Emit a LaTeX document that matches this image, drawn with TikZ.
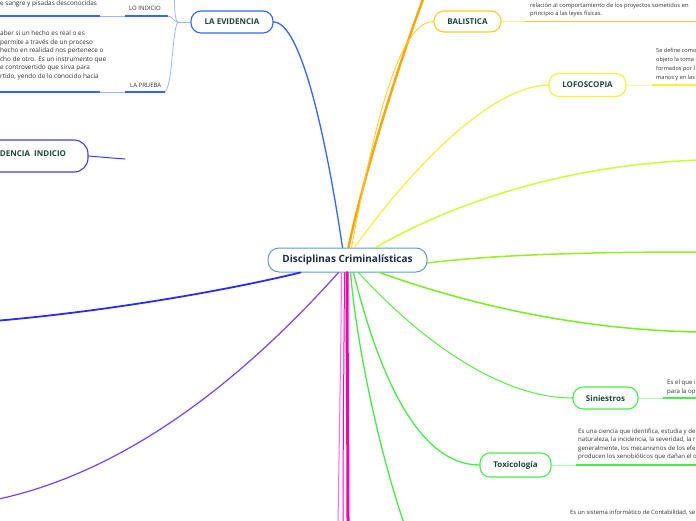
\documentclass[tikz,border=0pt]{standalone}
\usepackage{fontspec}
\setmainfont{Open Sans}
\definecolor{nodetext}{HTML}{1A4A3A}
\definecolor{ctext}{HTML}{1C2B50}
\definecolor{cborder}{HTML}{5B9BD5}
\definecolor{smalltext}{HTML}{333333}
\definecolor{evblue}{HTML}{3366FF}
\definecolor{lightblue}{HTML}{9BB8FF}
\definecolor{indblue}{HTML}{3D3DF5}
\definecolor{leftblue}{HTML}{2A2AFF}
\definecolor{violet}{HTML}{7B3FFF}
\definecolor{orangec}{HTML}{FFA500}
\definecolor{gold}{HTML}{FFCC22}
\definecolor{yell}{HTML}{F5F03A}
\definecolor{ygreenA}{HTML}{CCFF33}
\definecolor{ygreenB}{HTML}{99EE22}
\definecolor{greenC}{HTML}{77EE22}
\definecolor{greenD}{HTML}{44EE44}
\definecolor{deeppink}{HTML}{FF0099}
\definecolor{magA}{HTML}{EE00EE}
\definecolor{magB}{HTML}{FF66FF}
\begin{document}
\begin{tikzpicture}[x=1pt,y=-1pt,
  topic/.style={draw, line width=1.1pt, rounded corners=10pt, fill=white, inner sep=0pt, text=nodetext, font=\bfseries\fontsize{8}{9}\selectfont},
  lbl/.style={inner sep=0pt, anchor=base west, text=smalltext, font=\fontsize{6}{7}\selectfont},
  para/.style={inner sep=0pt, anchor=north west, align=left, text=smalltext, font=\fontsize{5.8}{8.6}\selectfont},
  lpara/.style={para, font=\fontsize{6.4}{8.6}\selectfont},
  conn/.style={line cap=round},
]
\useasboundingbox (0,0) rectangle (696,520);
\fill[white] (0,0) rectangle (696,520);

% ---------- coordinates for free ends ----------
\coordinate (evj) at (178,22);
\coordinate (evtop) at (174,-6);
\coordinate (liA) at (168,16);
\coordinate (liB) at (125,16);
\coordinate (liC) at (100,16);
\coordinate (liD) at (-5,16);
\coordinate (lpA) at (165,92);
\coordinate (lpB) at (125,92);
\coordinate (lpC) at (100,92);
\coordinate (lpD) at (-5,92);
\coordinate (balA) at (525,21.5);
\coordinate (balB) at (700,21.5);
\coordinate (lofA) at (652,85);
\coordinate (lofB) at (700,85);
\coordinate (sinA) at (663,398);
\coordinate (sinB) at (700,398);
\coordinate (toxA) at (576,465);
\coordinate (toxB) at (700,465);
\coordinate (orTop) at (425,-6);
\coordinate (ygA) at (700,160);
\coordinate (ygB) at (700,252);
\coordinate (gC) at (700,332);
\coordinate (gBot) at (405,526);
\coordinate (mA) at (348,526);
\coordinate (mB) at (343,526);
\coordinate (mC) at (338,526);
\coordinate (lbEnd) at (-6,321);
\coordinate (viEnd) at (-6,500);
\coordinate (indEnd) at (125,159);

% ---------- nodes ----------
\node[draw=cborder, line width=1pt, rounded corners=11pt, fill=white, inner sep=0pt,
      minimum width=159pt, minimum height=24pt, text=ctext,
      font=\bfseries\fontsize{10}{11}\selectfont] (c) at (347.5,260) {Disciplinas Criminalísticas};
\node[topic, draw=evblue, minimum width=82pt, minimum height=22pt] (ev) at (232,22) {LA EVIDENCIA};
\node[topic, draw=indblue, minimum width=110pt, minimum height=32pt, rounded corners=14pt] (ind) at (33,156) {\raisebox{4pt}{DENCIA\ \ INDICIO}};
\node[topic, draw=gold, minimum width=67pt, minimum height=21pt] (bal) at (467.5,21.5) {BALISTICA};
\node[topic, draw=yell, minimum width=77pt, minimum height=23pt] (lof) at (587.5,85) {LOFOSCOPIA};
\node[topic, draw=greenD, minimum width=65pt, minimum height=22pt] (sin) at (605.5,398) {Siniestros};
\node[topic, draw=greenD, minimum width=71pt, minimum height=24pt] (tox) at (515.5,465) {Toxicología};

% ---------- connectors from central ----------
\draw[conn, evblue, line width=1.3pt] ([xshift=-5pt]c.north) .. controls (325,130) and (300,22) .. (ev.east);
\draw[conn, orangec, line width=2.4pt] ([xshift=1pt]c.north) .. controls (365,170) and (400,60) .. (orTop);
\draw[conn, gold, line width=0.8pt] ([xshift=4pt]c.north) .. controls (370,150) and (395,21.5) .. (bal.west);
\draw[conn, yell, line width=1.2pt] ([xshift=7pt]c.north) .. controls (410,170) and (490,86) .. (lof.west);
\draw[conn, ygreenA, line width=1.5pt] ([xshift=28pt]c.north) .. controls (450,205) and (560,165) .. (ygA);
\draw[conn, ygreenB, line width=1.5pt] ([yshift=-3pt]c.east) .. controls (500,254) and (600,252) .. (ygB);
\draw[conn, greenC, line width=1.5pt] ([xshift=32pt]c.south) .. controls (470,305) and (580,330) .. (gC);
\draw[conn, greenD!90!yellow, line width=1pt] ([xshift=11pt]c.south) .. controls (420,340) and (500,398) .. (sin.west);
\draw[conn, greenD, line width=1.3pt] ([xshift=6pt]c.south) .. controls (380,380) and (420,465) .. (tox.west);
\draw[conn, greenD, line width=1.3pt] ([xshift=3pt]c.south) .. controls (358,360) and (385,470) .. (gBot);
\draw[conn, magB, line width=1pt] ([xshift=-6pt]c.south) .. controls (341,350) and (339,450) .. (mC);
\draw[conn, magA, line width=1pt] ([xshift=-3pt]c.south) .. controls (344,350) and (343,450) .. (mB);
\draw[conn, deeppink, line width=3pt] ([xshift=-0.5pt]c.south) .. controls (347,350) and (348,450) .. (mA);
\draw[conn, leftblue, line width=1.8pt] ([xshift=-47pt]c.south) .. controls (220,292) and (100,312) .. (lbEnd);
\draw[conn, violet, line width=1.2pt] ([xshift=-9pt]c.south) .. controls (260,360) and (140,470) .. (viEnd);

% EVIDENCIA INDICIO stub
\draw[conn, indblue, line width=1pt] (ind.east) .. controls (100,157) .. (indEnd);

% ---------- LA EVIDENCIA branches ----------
\draw[lightblue, line width=0.8pt] (ev.west) -- (evj);
\draw[lightblue, line width=0.8pt] (evj) .. controls (174,20) and (175,5) .. (evtop);
\draw[lightblue, line width=0.8pt] (evj) .. controls (174,22) and (172,16) .. (liA);
\draw[lightblue, line width=0.8pt] (evj) .. controls (172,28) and (173,85) .. (lpA);
\draw[evblue, line width=1.6pt] (liA) -- (liB);
\draw[lightblue, line width=1pt] (liB) -- (liC);
\draw[evblue, line width=1.6pt] (liC) -- (liD);
\draw[evblue, line width=1.6pt] (lpA) -- (lpB);
\draw[lightblue, line width=1pt] (lpB) -- (lpC);
\draw[evblue, line width=1.6pt] (lpC) -- (lpD);

\node[lbl] (lilbl) at (129,10.5) {LO INDICIO};
\node[lbl] (lplbl) at (130,87) {LA PRUEBA};
\node[lpara] (litxt) at (0,0.6) {e sangre y pisadas desconocidas};
\node[lpara] (lptxt) at (0,30.5) {aber si un hecho es real o es\\
permite a través de un proceso\\
hecho en realidad nos pertenece o\\
cho de otro. Es un instrumento que\\
e controvertido que sirva para\\
rtido, yendo de lo conocido hacia};

% ---------- right side branches ----------
\draw[gold!45, line width=1pt] (bal.east) -- (balA);
\draw[gold, line width=1.8pt] (balA) -- (balB);
\node[para] (baltxt) at (530,2.5) {relación al comportamiento de los proyectos sometidos en\\
principio a las leyes físicas.};

\draw[yell!45, line width=1pt] (lof.east) -- (lofA);
\draw[yell, line width=1.8pt] (lofA) -- (lofB);
\node[para, font=\fontsize{5.6}{8.7}\selectfont] (loftxt) at (656,48.5) {Se define como\\
objeto la toma\\
formados por l\\
manos y en las};

\draw[greenD!40, line width=1pt] (sin.east) -- (sinA);
\draw[greenD, line width=1.8pt] (sinA) -- (sinB);
\node[para, font=\fontsize{6.1}{8.6}\selectfont] (sintxt) at (667,380) {Es el que i\\
para la op};

\draw[greenD!40, line width=1pt] (tox.east) -- (toxA);
\draw[greenD, line width=1.8pt] (toxA) -- (toxB);
\node[para, font=\fontsize{6.1}{8.4}\selectfont] (toxtxt) at (578,428.5) {Es una ciencia que identifica, estudia y de\\
naturaleza, la incidencia, la severidad, la r\\
generalmente, los mecanismos de los efe\\
producen los xenobióticos que dañan el o};

\node[para, font=\fontsize{5.9}{8.6}\selectfont] (bottxt) at (570,510) {Es un sistema informático de Contabilidad, se};
\end{tikzpicture}
\end{document}
